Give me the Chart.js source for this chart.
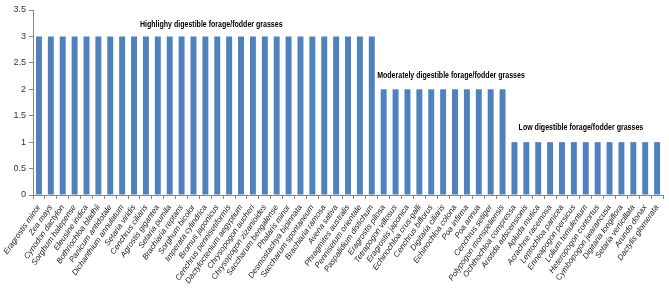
<!DOCTYPE html>
<html>
<head>
<meta charset="utf-8">
<script src="https://cdn.jsdelivr.net/npm/chart.js@4.4.0/dist/chart.umd.min.js"></script>
<style>
  html, body { margin: 0; padding: 0; background: #fff; }
  #wrap { width: 669px; height: 292px; }
</style>
</head>
<body>
<div id="wrap"><canvas id="grassChart"></canvas></div>
<script>
const species = [
  "Eragrostis minor", "Zea mays", "Cynodon dactylon", "Sorghum halepense", "Eleusine indica",
  "Bothriochloa bladhii", "Panicum antidotale", "Dichanthium annulatum", "Setaria viridis",
  "Cenchrus ciliaris", "Agrostis gigantea", "Setaria pumila", "Brachiaria reptans",
  "Sorghum bicolor", "Imperata cylindrica", "Bromus japonicus", "Cenchrus pennisetiformis",
  "Dactyloctenium aegyptium", "Chrysopogon aucheri", "Chrysopogon zizanioides",
  "Saccharum bengalense", "Phalaris minor", "Desmostachya bipinnata", "Saccharum spontaneum",
  "Brachiaria ramosa", "Avena sativa", "Phragmites australis", "Pennisetum orientale",
  "Paspalidium distichum", "Eragrostis pilosa", "Tetrapogon villosus", "Eragrostis japonica",
  "Echinochloa crus-galli", "Cenchrus biflorus", "Digitaria ciliaris", "Echinochloa colona",
  "Poa infirma", "Poa annua", "Cenchrus setiger", "Polypogon monspeliensis",
  "Ochthochloa compressa", "Aristida adscensionis", "Apluda mutica", "Acrachne racemosa",
  "Leptochloa panicea", "Enneapogon persicus", "Lolium temulentum", "Heteropogon contortus",
  "Cymbopogon jwarancusa", "Digitaria longiflora", "Setaria verticillata", "Arundo donax",
  "Dactylis glomerata"
];

// digestibility class: 3 = high, 2 = moderate, 1 = low
const digestibility = [
  3, 3, 3, 3, 3, 3, 3, 3, 3, 3, 3, 3, 3, 3, 3, 3, 3, 3, 3, 3, 3, 3, 3, 3, 3, 3, 3, 3, 3,
  2, 2, 2, 2, 2, 2, 2, 2, 2, 2, 2,
  1, 1, 1, 1, 1, 1, 1, 1, 1, 1, 1, 1, 1
];

const groupLabels = [
  "Highlighy digestible forage/fodder grasses",
  "Moderately digestible forage/fodder grasses",
  "Low digestible forage/fodder grasses"
];
// category index where each label starts, and the value it sits at
const groupLabelStart = [8.5, 28.45, 40.35];
const groupLabelValue = [3.23, 2.27, 1.27];

const groupText = {
  id: "groupText",
  afterDatasetsDraw(chart) {
    const { ctx, scales: { x, y } } = chart;
    ctx.save();
    ctx.font = "bold 9.5px 'Liberation Sans', sans-serif";
    ctx.fillStyle = "#000";
    ctx.textBaseline = "middle";
    ctx.textAlign = "left";
    groupLabels.forEach((t, i) => {
      const px = x.getPixelForValue(groupLabelStart[i]);
      const py = y.getPixelForValue(groupLabelValue[i]);
      ctx.save();
      ctx.translate(px, py);
      ctx.scale(0.74, 1); // narrow, Calibri-like
      ctx.fillText(t, 0, 0);
      ctx.restore();
    });
    ctx.restore();
  }
};

new Chart(document.getElementById("grassChart"), {
  type: "bar",
  data: {
    labels: species,
    datasets: [{
      data: digestibility,
      backgroundColor: "#4f81bd",
      barPercentage: 0.5,
      categoryPercentage: 1.0
    }]
  },
  options: {
    responsive: true,
    maintainAspectRatio: false,
    animation: false,
    layout: { padding: { top: 10, right: 4, left: 0, bottom: 0 } },
    plugins: {
      legend: { display: false },
      tooltip: { enabled: false }
    },
    scales: {
      x: {
        afterFit: (s) => { s.height = 97; },
        border: { color: "#868686" },
        grid: { display: true, drawOnChartArea: false, offset: true, tickLength: 4, color: "#868686" },
        ticks: {
          autoSkip: false,
          minRotation: 55,
          maxRotation: 55,
          padding: 4,
          color: "#222",
          font: { family: "'Liberation Sans', sans-serif", size: 8, style: "italic" }
        }
      },
      y: {
        min: 0,
        max: 3.5,
        afterFit: (s) => { s.width = 33; },
        border: { color: "#868686" },
        grid: { display: true, drawOnChartArea: false, tickLength: 4, color: "#868686" },
        ticks: {
          stepSize: 0.5,
          padding: 3,
          color: "#333",
          font: { family: "'Liberation Sans', sans-serif", size: 9 },
          callback: (v) => String(v)
        }
      }
    }
  },
  plugins: [groupText]
});
</script>
</body>
</html>
